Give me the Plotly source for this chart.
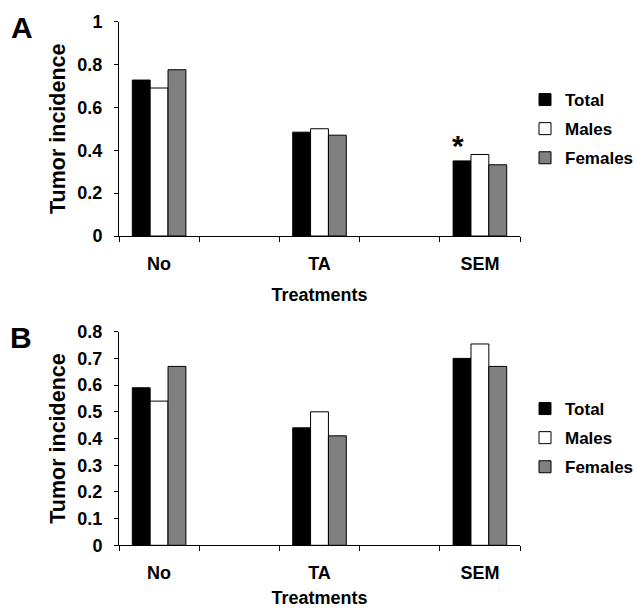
import plotly.graph_objects as go

categories = ["No", "TA", "SEM"]
series_names = ["Total", "Males", "Females"]

# Panel A values
a_total = [0.727, 0.484, 0.35]
a_males = [0.69, 0.50, 0.38]
a_females = [0.775, 0.47, 0.332]

# Panel B values
b_total = [0.59, 0.44, 0.70]
b_males = [0.54, 0.50, 0.754]
b_females = [0.67, 0.41, 0.67]

a_ticks = [0, 0.2, 0.4, 0.6, 0.8, 1]
b_ticks = [0, 0.1, 0.2, 0.3, 0.4, 0.5, 0.6, 0.7, 0.8]

colors = ["#000000", "#ffffff", "#808080"]
FONT = "Liberation Sans, Arial, sans-serif"
W, H = 637, 608

xpos = [2 * i for i in range(len(categories))]
bounds = [i - 0.5 for i in range(2 * len(categories))]

fig = go.Figure()
for panel, (vals, xa, ya, lg) in enumerate([
        ((a_total, a_males, a_females), "x", "y", "legend"),
        ((b_total, b_males, b_females), "x2", "y2", "legend2")]):
    for name, v, c in zip(series_names, vals, colors):
        fig.add_trace(go.Bar(
            x=xpos, y=v, name=name, xaxis=xa, yaxis=ya, legend=lg,
            marker=dict(color=c, line=dict(color="black", width=1)),
            legendgroup=name + str(panel),
        ))

def px_x(p):
    return p / W

def px_y(p):
    return 1 - p / H

xcommon = dict(
    range=[-0.5, 2 * len(categories) - 1.5], showline=True, linecolor="black", linewidth=1,
    tickvals=xpos, ticktext=categories, ticks="", showgrid=False, zeroline=False,
    tickfont=dict(size=18, color="black"), ticklabelstandoff=11, automargin=False,
    minor=dict(tickvals=bounds, ticks="outside", ticklen=5, tickcolor="black", tickwidth=1, showgrid=False),
    title=dict(text="Treatments", font=dict(size=18, color="black"), standoff=15),
    fixedrange=True,
)
ycommon = dict(
    showline=True, linecolor="black", linewidth=1, ticks="outside", ticklen=4,
    tickcolor="black", showgrid=False, zeroline=False, tickmode="array", automargin=False,
    tickfont=dict(size=18, color="black"), ticklabelstandoff=8,
    title=dict(text="Tumor incidence", font=dict(size=21.5, color="black"), standoff=5),
    fixedrange=True,
)

fig.update_layout(
    width=W, height=H, margin=dict(l=0, r=0, t=0, b=0, autoexpand=False),
    paper_bgcolor="white", plot_bgcolor="white",
    font=dict(family=FONT, weight="bold", color="black"),
    barmode="group", bargap=0.666, bargroupgap=0,
    showlegend=True,
    xaxis=dict(domain=[px_x(119), px_x(520)], anchor="y", **xcommon),
    xaxis2=dict(domain=[px_x(119), px_x(520)], anchor="y2", **xcommon),
    yaxis=dict(domain=[px_y(236), px_y(21.5)], anchor="x", range=[0, 1], tickvals=a_ticks, **ycommon),
    yaxis2=dict(domain=[px_y(545.3), px_y(331.7)], anchor="x2", range=[0, 0.8], tickvals=b_ticks, **ycommon),
    legend=dict(x=px_x(525), y=px_y(82), xanchor="left", yanchor="top",
                font=dict(size=17, color="black"), tracegroupgap=4, traceorder="grouped",
                bgcolor="rgba(0,0,0,0)"),
    legend2=dict(x=px_x(525), y=px_y(391), xanchor="left", yanchor="top",
                 font=dict(size=17, color="black"), tracegroupgap=4, traceorder="grouped",
                 bgcolor="rgba(0,0,0,0)"),
    annotations=[
        dict(text="A", x=px_x(22), y=px_y(28), xref="paper", yref="paper", showarrow=False,
             font=dict(size=30, color="black"), xanchor="center", yanchor="middle"),
        dict(text="B", x=px_x(21), y=px_y(337), xref="paper", yref="paper", showarrow=False,
             font=dict(size=30, color="black"), xanchor="center", yanchor="middle"),
        dict(text="*", x=xpos[2] - 0.27, y=a_total[2] + 0.07, xref="x", yref="y", showarrow=False,
             font=dict(size=30, color="black"), xanchor="center", yanchor="middle"),
    ],
)

fig.write_html("out.html", config={"displayModeBar": False},
               post_script="document.body.style.margin='0';document.body.style.overflow='hidden';")
